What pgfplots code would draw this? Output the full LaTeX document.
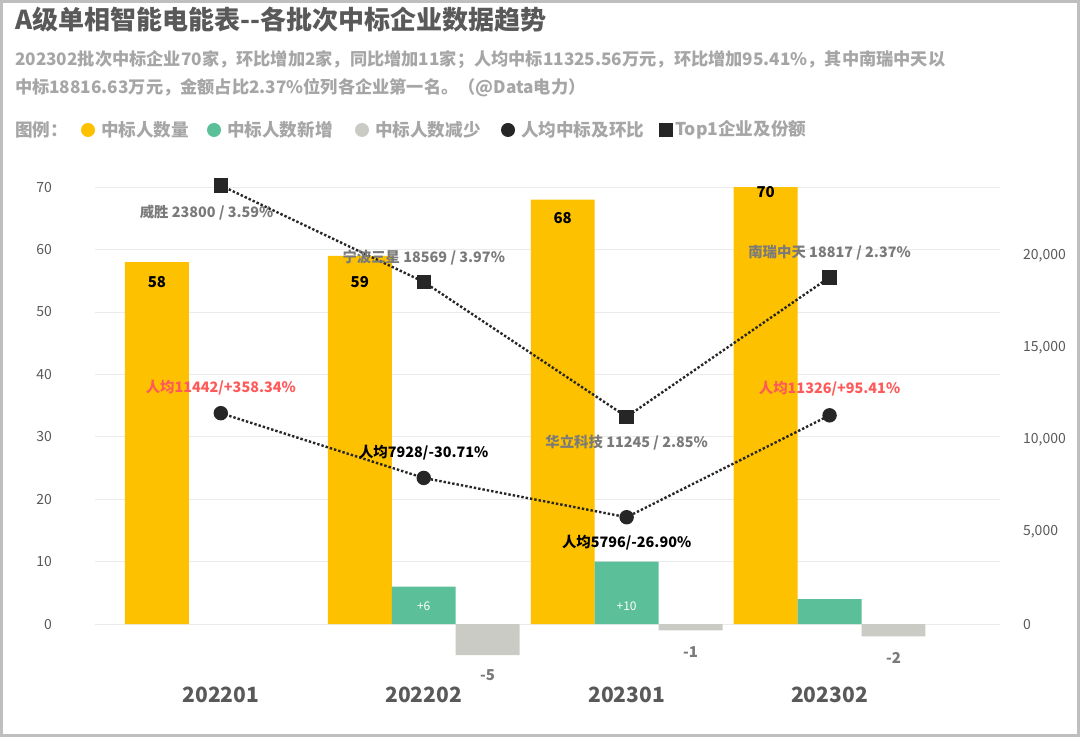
\documentclass[border=0pt]{standalone}
\usepackage{pgfplots}
\pgfplotsset{compat=1.18}
\usepackage{fontspec}
\setmainfont{Noto Sans CJK SC}
\definecolor{cy}{HTML}{FDC100}
\definecolor{cg}{HTML}{5BBF99}
\definecolor{cgr}{HTML}{CBCBC6}
\definecolor{ct}{HTML}{595959}
\definecolor{cs}{HTML}{A6A6A6}
\definecolor{cr}{HTML}{FF5A5A}
\definecolor{ca}{HTML}{7A7A7A}
\begin{document}
\begin{tikzpicture}[x=1pt,y=1pt]
\fill[white] (0,0) rectangle (540,368.5);
\draw[black!25,line width=1.5pt] (0.75,0.75) rectangle (539.25,367.75);
\node[anchor=west,font=\bfseries\fontsize{13}{14}\selectfont,text=ct] at (4,358.5) {A级单相智能电能表{-}{-}各批次中标企业数据趋势};
\node[anchor=west,font=\bfseries\fontsize{8.6}{10}\selectfont,text=cs] at (4,338.5) {202302批次中标企业70家，环比增加2家，同比增加11家；人均中标11325.56万元，环比增加95.41\%，其中南瑞中天以};
\node[anchor=west,font=\bfseries\fontsize{8.6}{10}\selectfont,text=cs] at (4,324.5) {中标18816.63万元，金额占比2.37\%位列各企业第一名。（@Data电力）};
\begin{scope}[font=\bfseries\fontsize{8.8}{10}\selectfont]
\node[anchor=west,text=cs] at (4,303.5) {图例：};
\fill[cy] (44,303.5) circle (3.5pt); \node[anchor=west,text=cs] at (47,303.5) {中标人数量};
\fill[cg] (107,303.5) circle (3.5pt); \node[anchor=west,text=cs] at (110,303.5) {中标人数新增};
\fill[cgr] (181,303.5) circle (3.5pt); \node[anchor=west,text=cs] at (184,303.5) {中标人数减少};
\fill[black!85] (254,303.5) circle (3.5pt); \node[anchor=west,text=cs] at (257,303.5) {人均中标及环比};
\fill[black!85] (329.5,300) rectangle (336.5,307); \node[anchor=west,text=cs] at (334,303.5) {Top1企业及份额};
\end{scope}
\begin{axis}[at={(47.5pt,34.65pt)},anchor=south west,scale only axis,
 width=452.5pt,height=246.5pt,xmin=-0.62,xmax=3.84,ymin=-7,ymax=72,
 axis line style={draw=none},ytick={0,10,...,70},ymajorgrids,
 grid style={black!8},major tick length=0pt,
 yticklabel style={font=\fontsize{7}{8}\selectfont,text=ct,xshift=-18pt},
 /pgf/number format/assume math mode=true,
 xtick={0,1,2,3},xticklabels={202201,202202,202301,202302},
 xticklabel style={font=\bfseries\fontsize{10.5}{12}\selectfont,text=ct,yshift=-6pt},
 ybar,bar width=0.315,clip=false]
\addplot[fill=cy,draw=none,bar shift=-0.315] coordinates {(0,58)(1,59)(2,68)(3,70)};
\addplot[fill=cg,draw=none,bar shift=0] coordinates {(1,6)(2,10)(3,4)};
\addplot[fill=cgr,draw=none,bar shift=0.315] coordinates {(1,-5)(2,-1)(3,-2)};
\begin{scope}[font=\bfseries\fontsize{7.5}{8}\selectfont]
\node at (axis cs:-0.315,54.8) {58};
\node at (axis cs:0.685,54.8) {59};
\node at (axis cs:1.685,65.1) {68};
\node at (axis cs:2.685,69.2) {70};
\node[text=ca] at (axis cs:1.315,-8.2) {-5};
\node[text=ca] at (axis cs:2.315,-4.5) {-1};
\node[text=ca] at (axis cs:3.315,-5.5) {-2};
\end{scope}
\node[text=white,font=\fontsize{6}{7}\selectfont] at (axis cs:1,2.9) {+6};
\node[text=white,font=\fontsize{6}{7}\selectfont] at (axis cs:2,2.9) {+10};
\end{axis}
\begin{axis}[at={(47.5pt,34.65pt)},anchor=south west,scale only axis,
 width=452.5pt,height=246.5pt,xmin=-0.62,xmax=3.84,ymin=-2371,ymax=24386,
 axis line style={draw=none},axis x line*=bottom,axis y line*=right,
 xtick=\empty,ytick={0,5000,10000,15000,20000},major tick length=0pt,
 scaled y ticks=false,
 yticklabel style={font=\fontsize{7}{8}\selectfont,text=ct,xshift=8pt,
 /pgf/number format/1000 sep={,}},
 /pgf/number format/assume math mode=true,clip=false]
\addplot[black!85,densely dotted,line width=1.2pt,mark=square*,mark size=3pt,mark options={solid}] coordinates {(0,23800)(1,18569)(2,11245)(3,18817)};
\addplot[black!85,densely dotted,line width=1.2pt,mark=*,mark size=3pt,mark options={solid}] coordinates {(0,11442)(1,7928)(2,5796)(3,11326)};
\begin{scope}[font=\bfseries\fontsize{7.2}{8}\selectfont]
\node[text=ca] at (axis cs:-0.07,22355) {威胜 23800 / 3.59\%};
\node[text=ca] at (axis cs:1,19860) {宁波三星 18569 / 3.97\%};
\node[text=ca] at (axis cs:2,9875) {华立科技 11245 / 2.85\%};
\node[text=ca] at (axis cs:3,20130) {南瑞中天 18817 / 2.37\%};
\node[text=cr] at (axis cs:0,12805) {人均11442/+358.34\%};
\node[text=black] at (axis cs:1,9278) {人均7928/-30.71\%};
\node[text=black] at (axis cs:2,4395) {人均5796/-26.90\%};
\node[text=cr] at (axis cs:3,12750) {人均11326/+95.41\%};
\end{scope}
\end{axis}
\end{tikzpicture}
\end{document}
